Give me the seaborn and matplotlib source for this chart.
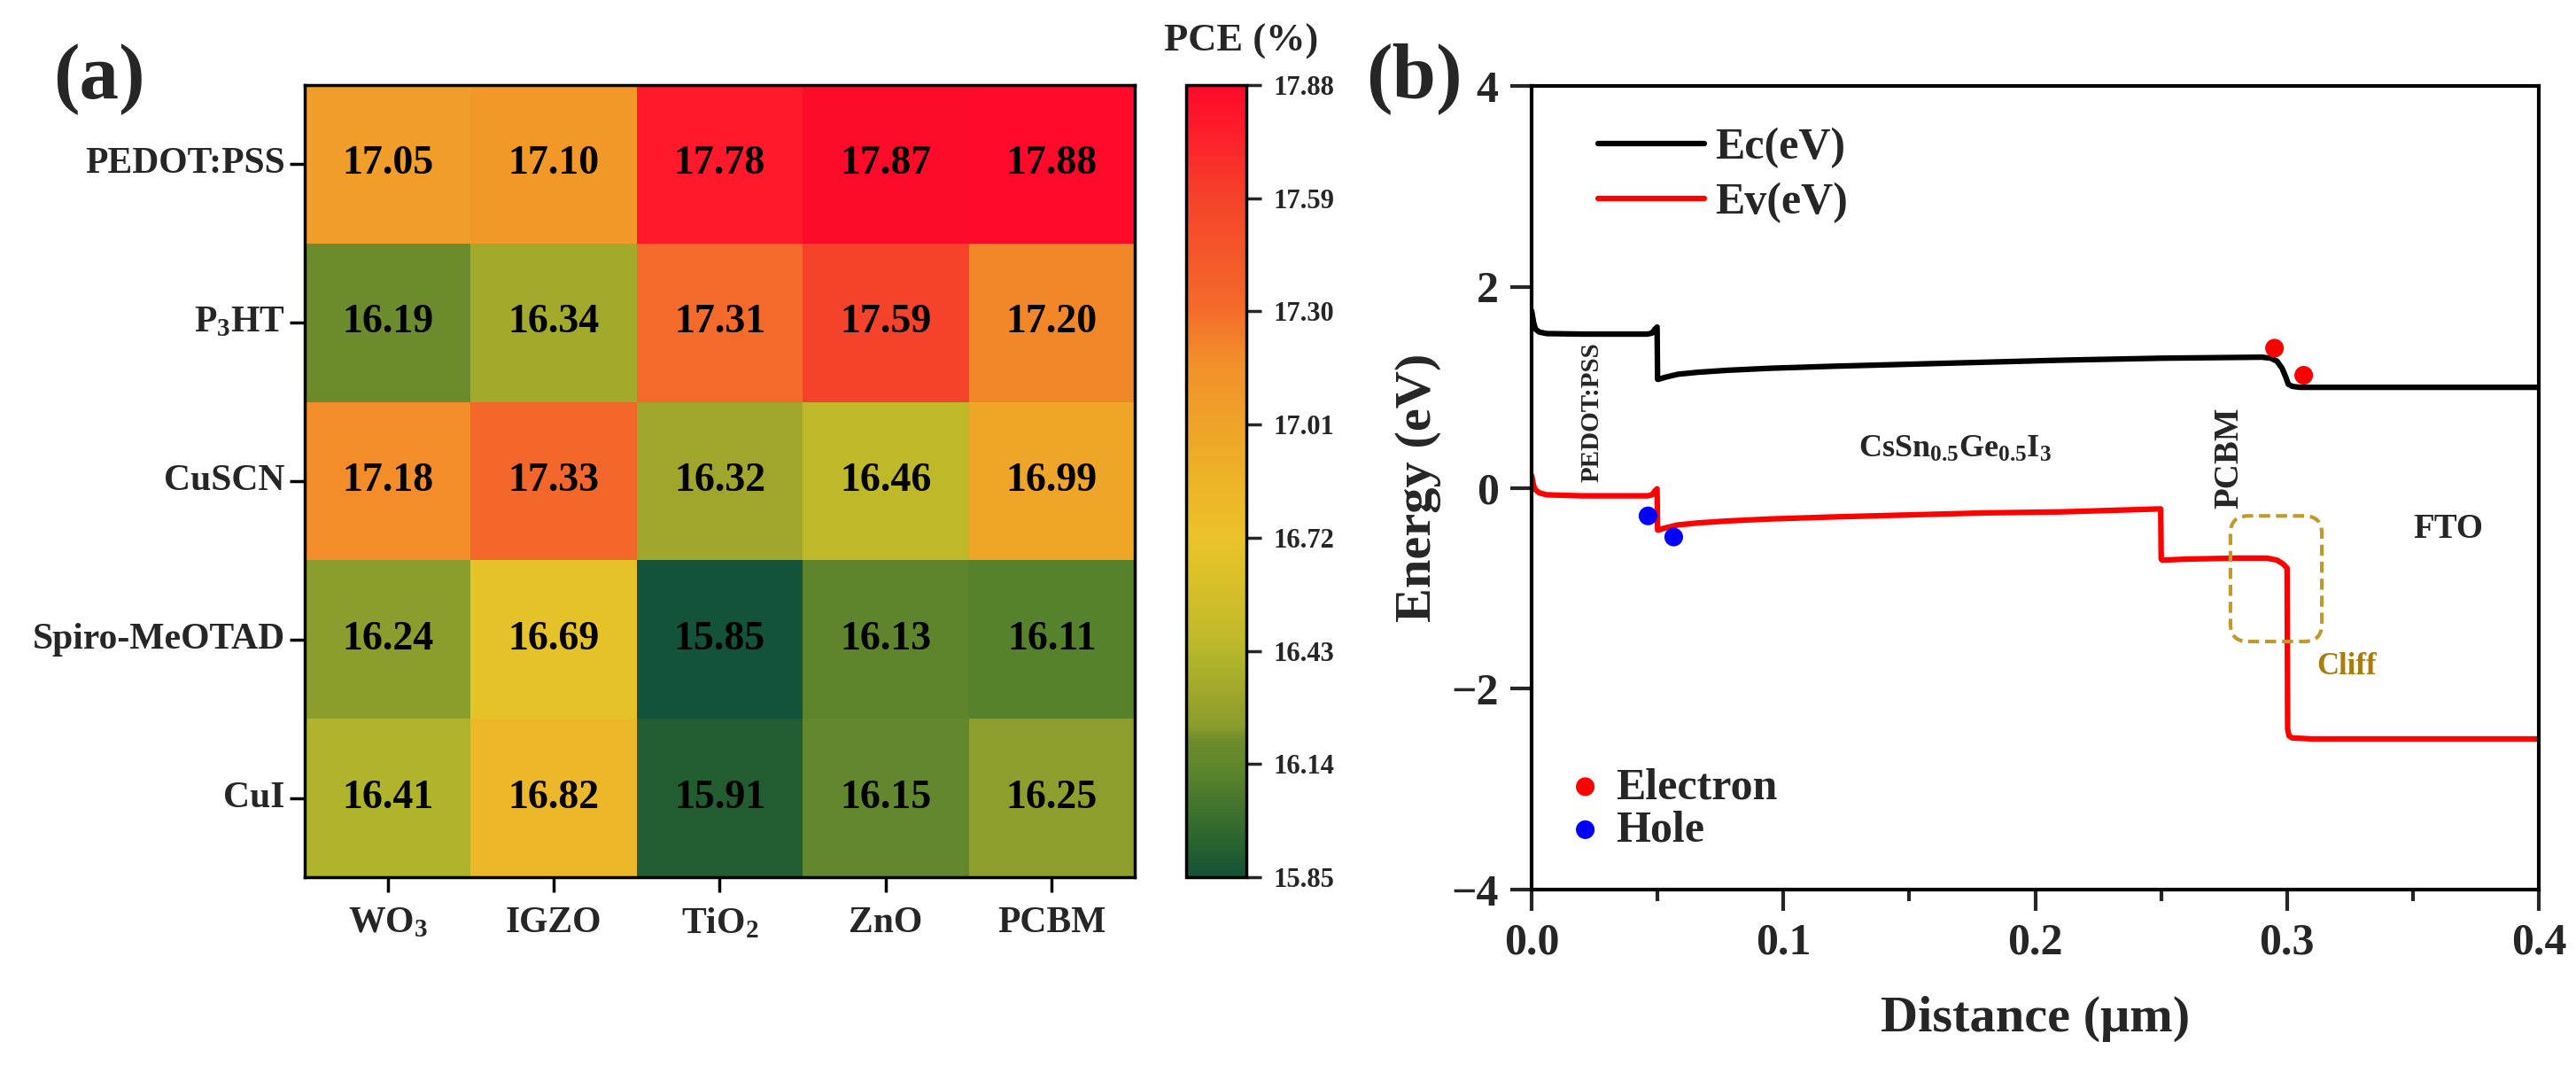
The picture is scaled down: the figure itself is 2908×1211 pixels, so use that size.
import matplotlib
matplotlib.use("Agg")
import matplotlib.pyplot as plt
from matplotlib.colors import LinearSegmentedColormap
from matplotlib.patches import FancyBboxPatch
from matplotlib.ticker import MultipleLocator
import pandas as pd
import seaborn as sns

# ---- panel (a): PCE heatmap ----
htl_labels = ["PEDOT:PSS", "P$_3$HT", "CuSCN", "Spiro-MeOTAD", "CuI"]
etl_labels = ["WO$_3$", "IGZO", "TiO$_2$", "ZnO", "PCBM"]
pce_pedot = [17.05, 17.10, 17.78, 17.87, 17.88]
pce_p3ht = [16.19, 16.34, 17.31, 17.59, 17.20]
pce_cuscn = [17.18, 17.33, 16.32, 16.46, 16.99]
pce_spiro = [16.24, 16.69, 15.85, 16.13, 16.11]
pce_cui = [16.41, 16.82, 15.91, 16.15, 16.25]
cbar_ticks = [15.85, 16.14, 16.43, 16.72, 17.01, 17.30, 17.59, 17.88]

# ---- panel (b): band diagram ----
dist_ec = [0.0, 0.0008, 0.0015, 0.003, 0.006, 0.02, 0.046, 0.0478, 0.0490, 0.0498,
           0.0500, 0.0504, 0.053, 0.058, 0.066, 0.078, 0.095, 0.12, 0.15, 0.18,
           0.21, 0.25, 0.29, 0.2935, 0.2960, 0.2980, 0.2995, 0.3005, 0.3020, 0.305,
           0.33, 0.37, 0.40]
ec = [1.76, 1.64, 1.58, 1.55, 1.535, 1.53, 1.53, 1.54, 1.58, 1.60,
      1.08, 1.08, 1.10, 1.13, 1.15, 1.17, 1.19, 1.21, 1.23, 1.25,
      1.27, 1.29, 1.30, 1.29, 1.26, 1.19, 1.10, 1.03, 1.01, 1.0,
      1.0, 1.0, 1.0]
dist_ev = [0.0, 0.0008, 0.0015, 0.003, 0.006, 0.02, 0.046, 0.0478, 0.0490, 0.0498,
           0.0500, 0.0504, 0.053, 0.058, 0.066, 0.078, 0.095, 0.12, 0.15, 0.18,
           0.21, 0.2498, 0.2500, 0.2504, 0.26, 0.28, 0.292, 0.2960, 0.2985, 0.3000,
           0.3002, 0.3008, 0.302, 0.31, 0.35, 0.40]
ev = [0.12, 0.02, -0.02, -0.05, -0.07, -0.08, -0.08, -0.07, -0.03, -0.01,
      -0.42, -0.42, -0.40, -0.37, -0.35, -0.33, -0.31, -0.29, -0.27, -0.25,
      -0.24, -0.21, -0.71, -0.72, -0.71, -0.70, -0.70, -0.72, -0.76, -0.80,
      -2.40, -2.47, -2.49, -2.5, -2.5, -2.5]
electron_x = [0.295, 0.3066]
electron_y = [1.39, 1.12]
hole_x = [0.0462, 0.0564]
hole_y = [-0.28, -0.49]

sns.set_style("ticks")
plt.rcParams["font.family"] = ["Liberation Serif", "DejaVu Serif"]
plt.rcParams["font.weight"] = "bold"
plt.rcParams["axes.labelweight"] = "bold"
plt.rcParams["mathtext.fontset"] = "custom"
plt.rcParams["mathtext.rm"] = "Liberation Serif:bold"
plt.rcParams["mathtext.it"] = "Liberation Serif:italic:bold"
plt.rcParams["mathtext.bf"] = "Liberation Serif:bold"

cmap = LinearSegmentedColormap.from_list("pce", [
    (0.00, "#13533a"), (0.03, "#225e2f"), (0.13, "#5a842c"), (0.17, "#6e8c2c"),
    (0.19, "#8a9c2c"), (0.23, "#9fa62b"), (0.28, "#b2b62b"), (0.30, "#c0b92a"),
    (0.40, "#e2c229"), (0.43, "#ebc229"), (0.55, "#eea828"), (0.65, "#f2902a"),
    (0.72, "#f46a2a"), (0.86, "#f5422a"), (0.95, "#ff1a2a"), (1.00, "#ff0a2a"),
])

df = pd.DataFrame([pce_pedot, pce_p3ht, pce_cuscn, pce_spiro, pce_cui],
                  index=htl_labels, columns=etl_labels)

fig = plt.figure(figsize=(29.08, 12.11), dpi=100)
ax_a = fig.add_axes([0.1183, 0.1825, 0.3222, 0.7382])
cax = fig.add_axes([0.4604, 0.1825, 0.0234, 0.7382])
ax_b = fig.add_axes([0.5946, 0.1709, 0.3910, 0.7490])

sns.heatmap(df, ax=ax_a, cbar_ax=cax, cmap=cmap, vmin=15.85, vmax=17.88,
            annot=True, fmt=".2f",
            annot_kws={"fontsize": 33, "fontweight": "bold", "color": "black"})
for s in ax_a.spines.values():
    s.set_visible(True)
    s.set_linewidth(2.5)
    s.set_color("black")
ax_a.tick_params(axis="both", direction="out", length=12, width=2.5, labelsize=30, color="black")
ax_a.tick_params(axis="x", pad=12)
ax_a.tick_params(axis="y", pad=4)
ax_a.set_xticklabels(etl_labels, rotation=0)
ax_a.set_yticklabels(htl_labels, rotation=0)
ax_a.set_xlabel("")
ax_a.set_ylabel("")

cbar = ax_a.collections[0].colorbar
cbar.set_ticks(cbar_ticks)
cbar.set_ticklabels([f"{t:.2f}" for t in cbar_ticks])
cbar.ax.tick_params(labelsize=22, length=12, width=2.5, pad=10)
cbar.outline.set_linewidth(2.5)
cbar.outline.set_edgecolor("black")
fig.text(0.4818, 0.961, "PCE (%)", ha="center", va="center", fontsize=32, weight="bold")

# band diagram
sns.lineplot(x=dist_ec, y=ec, ax=ax_b, color="black", lw=4.5, label="Ec(eV)",
             estimator=None, sort=False)
sns.lineplot(x=dist_ev, y=ev, ax=ax_b, color="#ff0000", lw=4.5, label="Ev(eV)",
             estimator=None, sort=False)
sns.scatterplot(x=electron_x, y=electron_y, ax=ax_b, color="#ff0000", s=230,
                edgecolor="none", label="Electron", zorder=5)
sns.scatterplot(x=hole_x, y=hole_y, ax=ax_b, color="#0000ff", s=230,
                edgecolor="none", label="Hole", zorder=5)

ax_b.set_xlim(0, 0.4)
ax_b.set_ylim(-4, 4)
ax_b.xaxis.set_major_locator(MultipleLocator(0.1))
ax_b.xaxis.set_minor_locator(MultipleLocator(0.05))
ax_b.set_yticks([-4, -2, 0, 2, 4])
ax_b.tick_params(which="major", direction="out", length=17, width=3, labelsize=36, pad=10)
ax_b.tick_params(which="minor", direction="out", length=9, width=3)
for s in ax_b.spines.values():
    s.set_visible(True)
    s.set_linewidth(3)
    s.set_color("black")
ax_b.set_xlabel("Distance (μm)", fontsize=42, labelpad=26)
ax_b.set_ylabel("Energy (eV)", fontsize=42, labelpad=8)

cliff_box = FancyBboxPatch((0.2775, -1.53), 0.0363, 1.25,
                           boxstyle="round,pad=0,rounding_size=0.007",
                           mutation_aspect=25, fill=False, ec="#c09a2c", lw=3,
                           ls=(0, (3, 1.6)), zorder=3)
ax_b.add_patch(cliff_box)
ax_b.text(0.3237, -1.78, "Cliff", color="#a87d10", fontsize=25, ha="center", va="center")
ax_b.text(0.024, 0.75, "PEDOT:PSS", rotation=90, ha="center", va="center", fontsize=21)
ax_b.text(0.168, 0.38, "CsSn$_{0.5}$Ge$_{0.5}$I$_3$", ha="center", va="center", fontsize=26)
ax_b.text(0.277, 0.3, "PCBM", rotation=90, ha="center", va="center", fontsize=28)
ax_b.text(0.364, -0.41, "FTO", ha="center", va="center", fontsize=28)

handles, labels = ax_b.get_legend_handles_labels()
leg1 = ax_b.legend(handles[:2], labels[:2], loc="upper left", bbox_to_anchor=(0.066, 0.948),
                   frameon=False, fontsize=36, handlelength=2.4, handletextpad=0.25,
                   labelspacing=0.32, borderaxespad=0, borderpad=0)
ax_b.add_artist(leg1)
ax_b.legend(handles[2:], labels[2:], loc="lower left", bbox_to_anchor=(0.04, 0.048),
            frameon=False, fontsize=36, handlelength=0.6, handletextpad=0.4,
            labelspacing=0.05, borderaxespad=0, borderpad=0)

fig.text(0.0385, 0.926, "(a)", ha="center", va="center", fontsize=64, weight="bold")
fig.text(0.549, 0.927, "(b)", ha="center", va="center", fontsize=64, weight="bold")

fig.savefig("out.png", dpi=100)
plt.close(fig)
